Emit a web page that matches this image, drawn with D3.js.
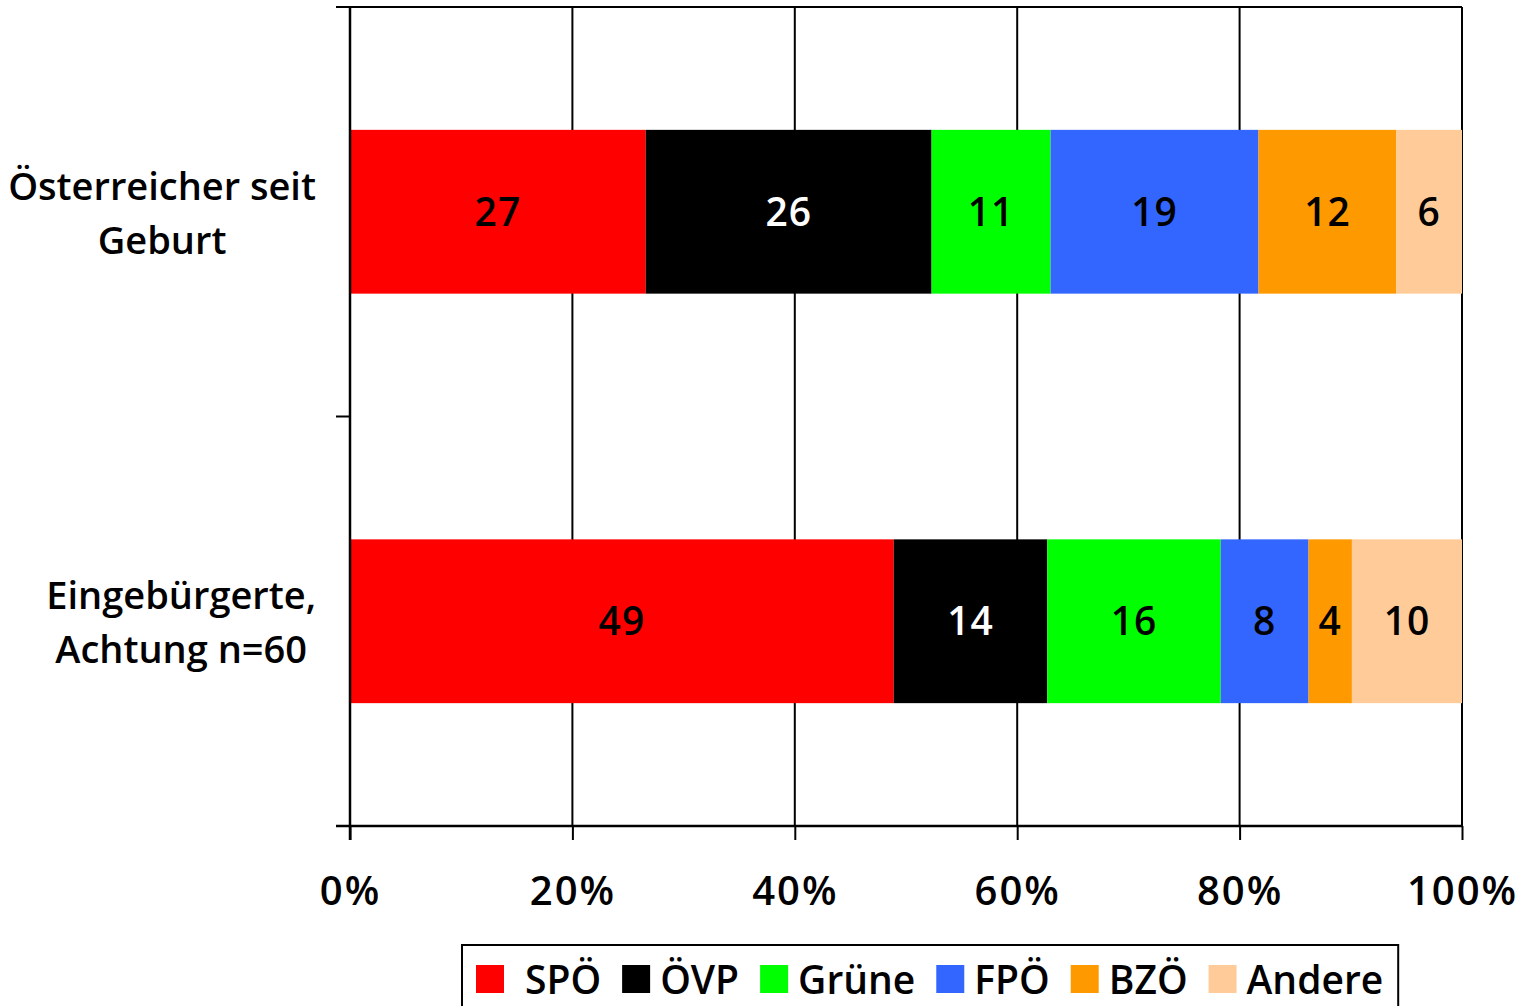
<!DOCTYPE html>
<html>
<head>
<meta charset="utf-8">
<script src="https://cdn.jsdelivr.net/npm/d3@7"></script>
<style>
  body { margin: 0; background: #fff; }
  text { font-family: "Open Sans", "DejaVu Sans", sans-serif; font-weight: 600; }
</style>
</head>
<body>
<svg id="chart" width="1532" height="1006"></svg>
<script>
// bar shares (percent of row) and printed labels
const categories = ['Österreicher seit Geburt', 'Eingebürgerte, Achtung n=60'];
const categoryLines = [['Österreicher seit', 'Geburt'], ['Eingebürgerte,', 'Achtung n=60']];
const parties = ['SPÖ', 'ÖVP', 'Grüne', 'FPÖ', 'BZÖ', 'Andere'];
const partyColors = ['#ff0000', '#000000', '#00ff00', '#3366ff', '#ff9900', '#ffcc99'];
const seit_geburt = [26.6, 25.7, 10.7, 18.7, 12.4, 5.9];
const seit_geburt_labels = [27, 26, 11, 19, 12, 6];
const eingebuergert = [48.9, 13.8, 15.6, 7.9, 3.9, 9.9];
const eingebuergert_labels = [49, 14, 16, 8, 4, 10];
const xTicks = [0, 20, 40, 60, 80, 100];

const svg = d3.select('#chart');
const plotLeft = 350, plotRight = 1462, plotTop = 7, plotBottom = 826;

const x = d3.scaleLinear().domain([0, 100]).range([plotLeft, plotRight]);
const y = d3.scaleBand().domain(categories).range([plotTop, plotBottom]).paddingInner(0.6).paddingOuter(0.3);

const labelSets = [seit_geburt_labels, eingebuergert_labels];
const rows = [seit_geburt, eingebuergert].map((vals, i) => {
    const total = d3.sum(vals);
    let acc = 0;
    return vals.map((v, j) => {
        const start = acc / total * 100;
        acc += v;
        return {cat: categories[i], party: parties[j], color: partyColors[j], label: labelSets[i][j], x0: start, x1: acc / total * 100};
    });
});

// gridlines
svg.append('g').selectAll('line')
    .data(xTicks.slice(1))
    .enter().append('line')
    .attr('x1', d => x(d)).attr('x2', d => x(d))
    .attr('y1', plotTop).attr('y2', plotBottom)
    .attr('stroke', '#000').attr('stroke-width', 2);

// top border
svg.append('line')
    .attr('x1', plotLeft - 14).attr('x2', plotRight)
    .attr('y1', plotTop).attr('y2', plotTop)
    .attr('stroke', '#000').attr('stroke-width', 2);

// bars
const g = svg.append('g');
rows.forEach(row => {
    g.selectAll(null)
        .data(row)
        .enter().append('rect')
        .attr('x', d => x(d.x0))
        .attr('width', d => x(d.x1) - x(d.x0))
        .attr('y', d => y(d.cat))
        .attr('height', y.bandwidth())
        .attr('fill', d => d.color);
    g.selectAll(null)
        .data(row)
        .enter().append('text')
        .attr('x', d => (x(d.x0) + x(d.x1)) / 2)
        .attr('y', d => y(d.cat) + y.bandwidth() / 2 + 14)
        .attr('text-anchor', 'middle')
        .attr('font-size', 39)
        .attr('font-weight', 700)
        .attr('letter-spacing', 1)
        .attr('fill', d => d.party === 'ÖVP' ? '#fff' : '#000')
        .text(d => d.label);
});

// x axis
const xAxis = d3.axisBottom(x).tickValues(xTicks).tickFormat(d => d + '%').tickSize(14).tickSizeOuter(0);
const xg = svg.append('g').attr('transform', `translate(0,${plotBottom})`).call(xAxis);
xg.select('.domain').attr('stroke-width', 2.5).attr('d', `M${plotLeft - 14},0H${plotRight}`);
xg.selectAll('.tick line').attr('stroke-width', 2);
xg.selectAll('.tick text')
    .attr('font-size', 40)
    .attr('font-family', '"Open Sans", sans-serif')
    .attr('font-weight', 700)
    .attr('letter-spacing', 2)
    .attr('dy', 0).attr('y', 79)
    .attr('fill', '#000');

// y axis line and ticks at category boundaries
svg.append('line')
    .attr('x1', plotLeft).attr('x2', plotLeft)
    .attr('y1', plotTop).attr('y2', plotBottom + 14)
    .attr('stroke', '#000').attr('stroke-width', 2.5);
const mid = (y(categories[0]) + y.bandwidth() + y(categories[1])) / 2;
svg.append('line')
    .attr('x1', plotLeft - 14).attr('x2', plotLeft)
    .attr('y1', mid).attr('y2', mid)
    .attr('stroke', '#000').attr('stroke-width', 2);

// category labels: block right-aligned at 316, lines centred in the block
categories.forEach((c, i) => {
    const cy = y(c) + y.bandwidth() / 2;
    const t = svg.append('text')
        .attr('text-anchor', 'middle')
        .attr('font-size', 38)
        .attr('font-weight', 600)
        .attr('fill', '#000');
    const spans = categoryLines[i].map((line, k) => t.append('tspan')
        .attr('y', cy - 12 + k * 54)
        .text(line));
    const maxW = d3.max(spans, s => s.node().getComputedTextLength());
    spans.forEach(s => s.attr('x', 316 - maxW / 2));
});

// legend
const legend = svg.append('g');
const lg = legend.append('g');
let lx = 476;
parties.forEach((p, i) => {
    lg.append('rect')
        .attr('x', lx).attr('y', 965)
        .attr('width', 28).attr('height', 28)
        .attr('fill', partyColors[i]);
    const t = lg.append('text')
        .attr('x', lx + (i === 0 ? 49 : 38)).attr('y', 994)
        .attr('font-size', 39)
        .attr('font-weight', 600)
        .attr('fill', '#000')
        .text(p);
    lx += (i === 0 ? 49 : 38) + t.node().getComputedTextLength() + 21;
});
legend.insert('rect', ':first-child')
    .attr('x', 462).attr('y', 945)
    .attr('width', lx - 462 - 6).attr('height', 80)
    .attr('fill', '#fff')
    .attr('stroke', '#000').attr('stroke-width', 2);
</script>
</body>
</html>
